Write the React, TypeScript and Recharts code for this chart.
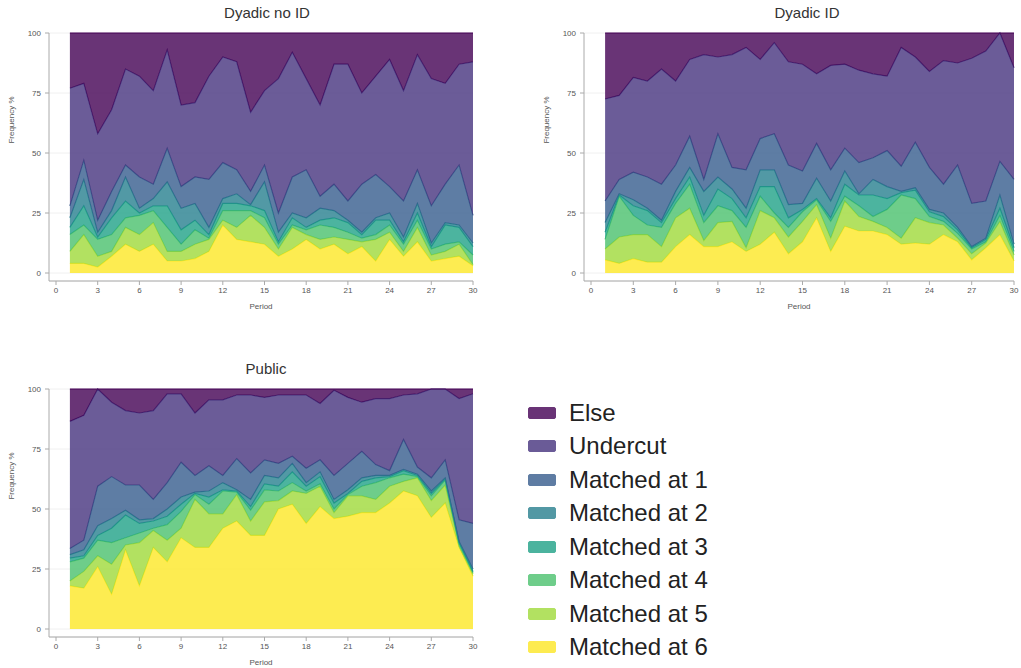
import React from "react";
import { AreaChart, Area, XAxis, YAxis, CartesianGrid } from "recharts";

const periods = [1, 2, 3, 4, 5, 6, 7, 8, 9, 10, 11, 12, 13, 14, 15, 16, 17, 18, 19, 20, 21, 22, 23, 24, 25, 26, 27, 28, 29, 30];
const xTicks = [0, 3, 6, 9, 12, 15, 18, 21, 24, 27, 30];
const yTicks = [0, 25, 50, 75, 100];

// Dyadic no ID (shares in %, bottom layer first)
const noIdM6 = [4, 4, 2.5, 7, 12, 9, 12, 5, 5, 6, 9, 20, 14, 13, 12, 7, 10, 14, 10, 12, 8, 11, 5, 14, 7, 13, 5, 6, 7, 3];
const noIdM5 = [5, 12, 4.5, 2, 7, 7, 9, 4, 4, 6, 5, 2, 5, 11, 7, 3, 9, 2, 4, 3, 6, 2, 9, 3, 2, 6, 2.5, 3, 5, 0.5];
const noIdM4 = [7, 4, 7, 7, 4, 8, 5, 10, 3, 6, 0.5, 4, 7, 2, 4, 2, 1, 2, 6, 4, 3, 1.5, 2, 3, 3, 3, 2.5, 3, 1, 4];
const noIdM3 = [3, 8, 1, 7, 7, 1, 2, 9, 6, 4, 1.5, 3, 3, 2, 3, 1, 3, 1, 2, 4, 4, 1.5, 6, 2, 1, 3, 1, 8, 6, 3.5];
const noIdM2 = [4, 11, 2, 3, 10, 2, 3, 10, 9, 7, 3, 2, 4, 0.5, 12, 4, 2, 4, 5, 3, 1, 1, 1, 3, 2, 4, 1.5, 1, 1, 1.5];
const noIdM1 = [5, 8, 5, 8, 5, 13, 6, 14, 9, 11, 20, 15, 10, 5.5, 7, 8, 15, 20, 5, 11, 8, 20, 18, 11, 15, 14, 15.5, 16, 25, 11.5];
const noIdUndercut = [49, 32, 36, 34, 40, 42, 39, 41, 34, 31, 43, 44, 45, 33, 31, 56, 52, 38, 38, 50, 57, 38, 41, 53, 46, 48, 53, 42, 42, 64];
const noIdElse = [23, 21, 42, 32, 15, 18, 24, 7, 30, 29, 18, 10, 12, 33, 24, 19, 8, 19, 30, 13, 13, 25, 18, 11, 24, 9, 19, 21, 13, 12];

// Dyadic ID
const idM6 = [5.5, 4, 6, 4.5, 4.5, 11, 16, 11, 11, 13, 9, 12, 17, 8, 13, 23, 9, 19.5, 17.5, 17.5, 16, 12, 12.5, 12, 16, 13, 5.5, 10.5, 16, 5];
const idM5 = [4.5, 11, 10, 11.5, 6.5, 12, 11, 2.5, 10, 8.5, 1.5, 14, 6, 7, 8.5, 5.5, 5.5, 10.5, 6, 4, 3, 2.5, 10.5, 9, 4, 1.5, 2.5, 2, 5.5, 2.5];
const idM4 = [4, 17, 8, 4, 8, 6, 10, 7.5, 7, 4.5, 8.5, 6, 2, 4, 4, 2, 7, 2, 4.5, 2, 7.5, 18, 8, 2.5, 1.5, 2, 2, 0.5, 2.5, 1.5];
const idM3 = [3, 0.5, 4, 6, 2, 2, 3, 3, 7, 5, 4, 4, 11, 4, 1, 0.5, 1.5, 5, 4.5, 9, 4.5, 1, 3.5, 2, 2, 1.5, 0.5, 1, 3, 1.5];
const idM2 = [4, 0.5, 2.5, 1, 1, 3, 4, 10, 5, 4, 4, 7, 7, 5.5, 2.5, 8.5, 7, 5.5, 0.5, 6.5, 5, 0.5, 1, 1, 1.5, 1, 0.5, 0.5, 5.5, 1.5];
const idM1 = [9, 6, 11.5, 13, 15, 11, 13, 5, 18, 9, 16, 13, 15, 16.5, 13.5, 14.5, 13, 9.5, 13, 9, 15, 10.5, 19, 17.5, 12, 26, 18, 15.5, 14, 27];
const idUndercut = [42.5, 35, 39.5, 40, 48, 35, 32, 52, 32, 47, 51, 33, 38, 43, 44.5, 29, 43.5, 35, 38.5, 35, 31, 49.5, 35.5, 40, 51.5, 42.5, 60.5, 62.5, 53.5, 46.5];
const idElse = [27.5, 26, 18.5, 20, 15, 20, 11, 9, 10, 9, 6, 11, 4, 12, 13, 17, 13.5, 13, 15.5, 17, 18, 6, 10, 16, 11.5, 12.5, 10.5, 7.5, 0, 14.5];

// Public
const pubM6 = [18, 17, 26, 14.5, 33, 18, 34, 28, 38, 34, 34, 42, 45, 39, 39, 50, 52, 44, 51, 46, 47, 48.5, 48.5, 52.5, 57.5, 55.5, 46.5, 52.5, 34, 22];
const pubM5 = [2, 7, 4.5, 12.5, 2, 18, 7, 9, 4, 20, 14, 6, 11, 6, 14, 3.5, 5.5, 12.5, 8.5, 2.5, 8.5, 7, 5.5, 7, 4, 7.5, 7, 7.5, 0.5, 1];
const pubM4 = [8, 5.5, 6.5, 9, 3, 4, 1, 6.5, 7, 2, 4, 9.5, 1, 4.5, 5, 4, 3.5, 1, 1, 1.5, 0.5, 4, 7, 3.5, 3, 0.5, 2, 2, 1, 0.5];
const pubM3 = [1.5, 1, 2, 6, 9.5, 4, 3, 3.5, 3, 0.5, 3, 0.5, 0.5, 1.5, 2.5, 2, 4.5, 2, 3, 2.5, 0.5, 2, 2, 0.5, 1.5, 0.5, 1, 0.5, 0.5, 0.5];
const pubM2 = [1.5, 2.5, 4, 4, 2, 1.5, 1, 3, 3, 0.5, 2.5, 3, 0.5, 3, 3.5, 3.5, 3.5, 1.5, 2, 1.5, 1.5, 1.5, 1, 0.5, 0.5, 0.5, 1, 0.5, 0.5, 1];
const pubM1 = [2.5, 4, 16.5, 17.5, 10.5, 14.5, 8, 11, 14.5, 7, 10.5, 3, 13, 11, 6.5, 6, 3, 6, 5, 10, 11, 11, 4.5, 2, 12.5, 3, 5.5, 7.5, 9, 19];
const pubUndercut = [53, 52, 40.5, 31, 31, 30, 37, 37, 28.5, 26, 27.5, 31.5, 26.5, 32.5, 26, 28.5, 25.5, 30.5, 23.5, 35.5, 27.5, 20.5, 27.5, 30, 18.5, 30.5, 37, 29.5, 50.5, 54];
const pubElse = [13.5, 11, 0, 5.5, 9, 10, 9, 2, 2, 10, 4.5, 4.5, 2.5, 2.5, 3.5, 2.5, 2.5, 2.5, 6, 0.5, 3.5, 5.5, 4, 4, 2.5, 2, 0, 0, 4, 2];

// legend order top to bottom; stacking uses reverse
const series = [
  { key: "else", name: "Else", color: "#440154" },
  { key: "undercut", name: "Undercut", color: "#46337E" },
  { key: "m1", name: "Matched at 1", color: "#365C8D" },
  { key: "m2", name: "Matched at 2", color: "#277F8E" },
  { key: "m3", name: "Matched at 3", color: "#1FA187" },
  { key: "m4", name: "Matched at 4", color: "#4AC16D" },
  { key: "m5", name: "Matched at 5", color: "#9FDA3A" },
  { key: "m6", name: "Matched at 6", color: "#FDE725" },
];

const buildRows = (m6, m5, m4, m3, m2, m1, undercut, other) =>
  periods.map((p, i) => ({
    period: p,
    m6: m6[i],
    m5: m5[i],
    m4: m4[i],
    m3: m3[i],
    m2: m2[i],
    m1: m1[i],
    undercut: undercut[i],
    else: other[i],
  }));

const noIdData = buildRows(noIdM6, noIdM5, noIdM4, noIdM3, noIdM2, noIdM1, noIdUndercut, noIdElse);
const idData = buildRows(idM6, idM5, idM4, idM3, idM2, idM1, idUndercut, idElse);
const pubData = buildRows(pubM6, pubM5, pubM4, pubM3, pubM2, pubM1, pubUndercut, pubElse);

const FONT = '"Liberation Sans", Arial, Helvetica, sans-serif';
const tickStyle = { fontSize: 8, fill: "#555", fontFamily: FONT };

function Panel({ data, title, left, top, width, marginRight, titleX }) {
  const height = 311;
  return (
    <>
      <div
        style={{
          position: "absolute",
          left: titleX - 100,
          top: top + 4,
          width: 200,
          textAlign: "center",
          fontSize: 15,
          color: "#333",
          fontFamily: FONT,
          lineHeight: "18px",
        }}
      >
        {title}
      </div>
      <div
        style={{
          position: "absolute",
          left: left - 28,
          top: top + 120 - 6,
          width: 80,
          textAlign: "center",
          fontSize: 8,
          color: "#555",
          fontFamily: FONT,
          lineHeight: "12px",
          transform: "rotate(-90deg)",
        }}
      >
        Frequency %
      </div>
      <div style={{ position: "absolute", left, top }}>
        <AreaChart
          width={width}
          height={height}
          data={data}
          margin={{ top: 33, right: marginRight, left: 9, bottom: 0 }}
        >
          <CartesianGrid horizontal vertical={false} stroke="#f0f0f0" />
          <XAxis
            type="number"
            dataKey="period"
            domain={[0, 30]}
            ticks={xTicks}
            padding={{ left: 7, right: 0 }}
            height={30}
            tickSize={4}
            tickMargin={2}
            stroke="#aaa"
            tick={tickStyle}
            label={{
              value: "Period",
              position: "insideBottom",
              offset: 2,
              style: { fontSize: 8, fill: "#555", fontFamily: FONT },
            }}
          />
          <YAxis
            type="number"
            domain={[0, 100]}
            ticks={yTicks}
            padding={{ top: 0, bottom: 8 }}
            width={40}
            tickSize={4}
            tickMargin={4}
            stroke="#aaa"
            tick={tickStyle}
          />
          {[...series].reverse().map((s) => (
            <Area
              key={s.key}
              type="linear"
              dataKey={s.key}
              name={s.name}
              stackId="a"
              stroke={s.color}
              strokeWidth={1.2}
              fill={s.color}
              fillOpacity={0.8}
              dot={false}
              activeDot={false}
              isAnimationActive={false}
            />
          ))}
        </AreaChart>
      </div>
    </>
  );
}

function Legend() {
  return (
    <div style={{ position: "absolute", left: 528, top: 396, fontFamily: FONT }}>
      {series.map((s) => (
        <div
          key={s.key}
          style={{ display: "flex", alignItems: "center", height: 33.5 }}
        >
          <div
            style={{
              width: 26,
              height: 10,
              borderRadius: 2,
              background: s.color,
              opacity: 0.8,
              border: `1px solid ${s.color}`,
              marginRight: 13,
            }}
          />
          <span style={{ fontSize: 24, color: "#222", lineHeight: "28px" }}>{s.name}</span>
        </div>
      ))}
    </div>
  );
}

export default function App() {
  return (
    <div style={{ position: "relative", width: 1021, height: 668, background: "#fff" }}>
      <style>{`body{margin:0}`}</style>
      <Panel data={noIdData} title="Dyadic no ID" left={0} top={0} width={500} marginRight={27} titleX={267} />
      <Panel data={idData} title="Dyadic ID" left={535} top={0} width={486} marginRight={7} titleX={807} />
      <Panel data={pubData} title="Public" left={0} top={356} width={500} marginRight={27} titleX={266} />
      <Legend />
    </div>
  );
}
